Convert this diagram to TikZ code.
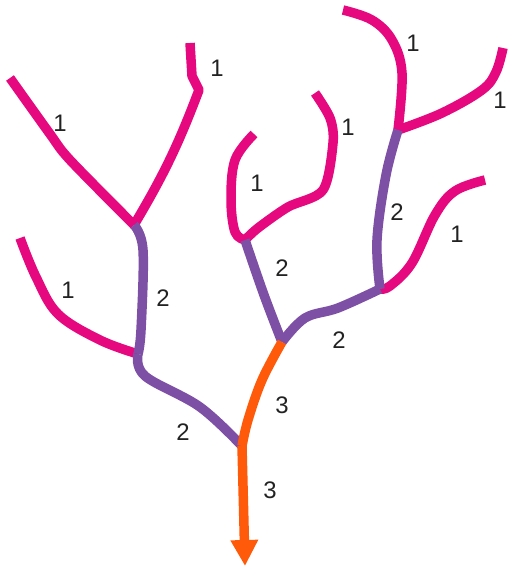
\documentclass[tikz,border=0pt]{standalone}
\usepackage{fontspec}
\setmainfont{Liberation Sans}
\usetikzlibrary{arrows.meta}
\definecolor{rivermag}{HTML}{E5087F}
\definecolor{riverpurple}{HTML}{7D4FA5}
\definecolor{riverorange}{HTML}{FF5A0A}
\definecolor{inkgray}{HTML}{222222}
\begin{document}
\begin{tikzpicture}[x=1bp,y=-1bp,
  order1/.style={rivermag,line width=9.5bp,line join=round},
  order2/.style={riverpurple,line width=9.5bp,line join=round},
  order3/.style={riverorange,line width=9.5bp,line join=round},
  num/.style={font=\fontsize{24}{28}\selectfont,text=inkgray,inner sep=0pt}]
  \useasboundingbox (0,0) rectangle (510,569);
  % junctions
  \coordinate (A) at (134,225); \coordinate (B) at (138,354);
  \coordinate (C) at (242,446); \coordinate (D) at (282,342);
  \coordinate (E) at (245,240); \coordinate (F) at (380,289);
  \coordinate (G) at (398,130); \coordinate (mouth) at (245,566);
  % order 1 streams
  \draw[order1] plot[smooth,tension=0.5] coordinates {(10,78) (50,134) (70,160) (A)};
  \draw[order1] (190,43) -- (192,76) -- (199,90) to[bend left=5] (A);
  \draw[order1] plot[smooth,tension=0.6] coordinates {(20,238) (36,277) (58,314) (100,340) (B)};
  \draw[order1] plot[smooth,tension=0.6] coordinates {(E) (235,232) (231,200) (235,160) (254,134)};
  \draw[order1] plot[smooth,tension=0.5] coordinates {(E) (258,228) (288,207) (323,190) (333,143) (330,118) (315,93)};
  \draw[order1] plot[smooth,tension=0.6] coordinates {(F) (390,286) (412,263) (435,215) (455,191) (485,180)};
  \draw[order1] plot[smooth,tension=0.6] coordinates {(G) (402,73) (392,40) (372,20) (343,10)};
  \draw[order1] plot[smooth,tension=0.6] coordinates {(G) (442,113) (482,90) (496,72) (503,48)};
  % order 2 streams
  \draw[order2] plot[smooth,tension=0.6] coordinates {(A) (143,250) (141,330) (B)};
  \draw[order2] plot[smooth,tension=0.6] coordinates {(B) (145,376) (200,407) (C)};
  \draw[order2] plot[smooth,tension=0.6] coordinates {(E) (264,295) (D)};
  \draw[order2] plot[smooth,tension=0.6] coordinates {(D) (305,318) (338,308) (F)};
  \draw[order2] plot[smooth,tension=0.6] coordinates {(F) (377,240) (386,175) (G)};
  % order 3 main stem
  \draw[order3] plot[smooth,tension=0.6] coordinates {(D) (262,380) (248,420) (C)};
  \draw[order3,-{Triangle[width=26bp,length=26bp]}] (C) -- (mouth);
  % stream order labels
  \node[num] (n1a) at (60,123) {1};
  \node[num] (n1b) at (217,68) {1};
  \node[num] (n1c) at (68,290) {1};
  \node[num] (n1d) at (257,183) {1};
  \node[num] (n1e) at (348,127) {1};
  \node[num] (n1f) at (457,234) {1};
  \node[num] (n1g) at (413,43) {1};
  \node[num] (n1h) at (500,100) {1};
  \node[num] (n2a) at (163,298) {2};
  \node[num] (n2b) at (183,432) {2};
  \node[num] (n2c) at (282,268) {2};
  \node[num] (n2d) at (339,340) {2};
  \node[num] (n2e) at (397,212) {2};
  \node[num] (n3a) at (282,405) {3};
  \node[num] (n3b) at (270,490) {3};
\end{tikzpicture}
\end{document}
